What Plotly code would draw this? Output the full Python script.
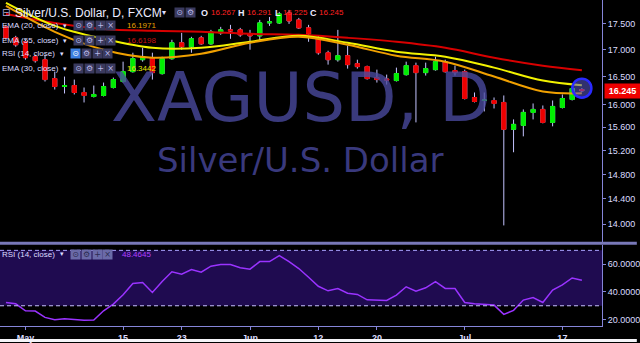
import math
import plotly.graph_objects as go

# ---------------- data ----------------
dates = [
    "2017-04-27", "2017-04-28",
    "2017-05-01", "2017-05-02", "2017-05-03", "2017-05-04", "2017-05-05",
    "2017-05-08", "2017-05-09", "2017-05-10", "2017-05-11", "2017-05-12",
    "2017-05-15", "2017-05-16", "2017-05-17", "2017-05-18", "2017-05-19",
    "2017-05-22", "2017-05-23", "2017-05-24", "2017-05-25", "2017-05-26",
    "2017-05-29", "2017-05-30", "2017-05-31",
    "2017-06-01", "2017-06-02",
    "2017-06-05", "2017-06-06", "2017-06-07", "2017-06-08", "2017-06-09",
    "2017-06-12", "2017-06-13", "2017-06-14", "2017-06-15", "2017-06-16",
    "2017-06-19", "2017-06-20", "2017-06-21", "2017-06-22", "2017-06-23",
    "2017-06-26", "2017-06-27", "2017-06-28", "2017-06-29", "2017-06-30",
    "2017-07-03", "2017-07-04", "2017-07-05", "2017-07-06", "2017-07-07",
    "2017-07-10", "2017-07-11", "2017-07-12", "2017-07-13", "2017-07-14",
    "2017-07-17", "2017-07-18", "2017-07-19",
]
opens = [17.442, 17.231, 17.155, 16.872, 16.816, 16.466, 16.321, 16.339, 16.213, 16.141,
         16.159, 16.303, 16.412, 16.594, 16.816, 16.854, 16.558, 16.835, 17.136, 17.060,
         17.231, 17.117, 17.326, 17.384, 17.384, 17.307, 17.269, 17.519, 17.519, 17.715,
         17.578, 17.423, 17.231, 16.947, 16.816, 16.891, 16.742, 16.687, 16.484, 16.457,
         16.430, 16.539, 16.705, 16.576, 16.631, 16.779, 16.613, 16.594, 16.123, 16.069,
         16.069, 16.034, 15.561, 15.630, 15.857, 15.910, 15.682, 15.945, 16.087, 16.267]
highs = [17.481, 17.269, 17.193, 16.910, 16.910, 16.594, 16.503, 16.448, 16.303, 16.339,
         16.393, 16.484, 16.779, 16.947, 17.041, 16.947, 16.872, 17.193, 17.326, 17.250,
         17.269, 17.384, 17.442, 17.481, 17.423, 17.384, 17.578, 17.636, 17.735, 17.774,
         17.617, 17.481, 17.269, 16.985, 17.384, 17.079, 16.816, 16.705, 16.631, 16.539,
         16.668, 16.779, 16.761, 16.761, 16.872, 16.816, 16.705, 16.631, 16.213, 16.213,
         16.123, 16.159, 15.734, 15.910, 16.016, 15.980, 16.069, 16.177, 16.321, 16.291]
lows = [17.193, 17.060, 16.816, 16.761, 16.412, 16.267, 16.195, 16.177, 16.034, 16.123,
        16.141, 16.285, 16.393, 16.576, 16.779, 16.448, 16.539, 16.816, 17.004, 16.947,
        17.098, 17.098, 17.288, 17.212, 17.250, 17.004, 17.155, 17.461, 17.500, 17.500,
        17.403, 17.155, 16.910, 16.724, 16.779, 16.650, 16.650, 16.448, 16.393, 16.357,
        16.412, 16.521, 15.682, 16.521, 16.613, 16.576, 16.521, 16.087, 16.034, 15.874,
        15.927, 13.982, 15.169, 15.440, 15.734, 15.665, 15.613, 15.927, 16.069, 16.225]
closes = [17.231, 17.098, 16.854, 16.798, 16.448, 16.321, 16.339, 16.213, 16.159, 16.177,
          16.321, 16.448, 16.594, 16.835, 16.872, 16.576, 16.835, 17.136, 17.060, 17.212,
          17.117, 17.346, 17.384, 17.365, 17.288, 17.269, 17.519, 17.539, 17.695, 17.558,
          17.423, 17.307, 16.947, 16.816, 16.891, 16.724, 16.687, 16.466, 16.448, 16.439,
          16.558, 16.705, 16.576, 16.650, 16.779, 16.594, 16.576, 16.105, 16.051, 16.078,
          16.016, 15.561, 15.647, 15.857, 15.910, 15.682, 15.963, 16.105, 16.285, 16.245]
rsi = [32.4, 31.4, 26.4, 26.2, 21.6, 19.9, 20.6, 19.9, 19.5, 19.7,
       26.4, 31.2, 37.9, 46.1, 46.8, 39.6, 47.5, 54.5, 52.8, 56.2,
       54.2, 58.6, 59.8, 59.8, 57.4, 56.4, 61.9, 61.9, 66.2, 61.9,
       56.9, 50.6, 44.1, 40.8, 42.5, 39.1, 38.2, 34.3, 33.9, 33.9,
       37.7, 43.7, 40.6, 43.0, 47.5, 42.5, 42.5, 32.4, 31.4, 31.2,
       30.5, 23.8, 26.7, 34.1, 36.0, 32.4, 41.3, 45.1, 50.1, 48.46]

ema_dates = ["2017-04-27", "2017-05-04", "2017-05-11", "2017-05-18", "2017-05-25",
             "2017-06-01", "2017-06-08", "2017-06-15", "2017-06-22", "2017-06-29",
             "2017-07-06", "2017-07-13", "2017-07-19"]
ema20 = [17.853, 17.346, 17.004, 16.854, 16.928, 17.136, 17.250, 17.098, 16.891, 16.779,
         16.503, 16.231, 16.197]
ema30 = [17.913, 17.461, 17.212, 17.041, 17.041, 17.155, 17.269, 17.136, 16.966, 16.872,
         16.668, 16.430, 16.344]
ema55 = [17.695, 17.519, 17.403, 17.365, 17.346, 17.307, 17.288, 17.231, 17.155, 17.041,
         16.854, 16.705, 16.620]

tick_dates = ["2017-05-01", "2017-05-15", "2017-05-23", "2017-06-01", "2017-06-12",
              "2017-06-20", "2017-07-03", "2017-07-17"]
tick_text = ["May", "15", "23", "Jun", "12", "20", "Jul", "17"]
price_ticks = [17.5, 17.0, 16.5, 16.0, 15.6, 15.2, 14.8, 14.4, 14.0]
rsi_ticks = [20, 40, 60]

level_high = 17.735
level_low = 15.561
level_mid = 16.13
last_price = 16.245
ohlc_last = ["16.267", "16.291", "16.225", "16.245"]
ema20_last, ema55_last, ema30_last, rsi_last = "16.1971", "16.6198", "16.3442", "48.4645"

# ---------------- styling ----------------
LAV = "#8585d8"
TXT = "#dcdcff"
W, H = 640, 343
ML, MR, MT, MB = 0, 35, 0, 16
PW, PH = W - ML - MR, H - MT - MB


def px(x):
    return x / PW


def py(y):
    return (PH - y) / PH


fig = go.Figure()

# wicks (full range) then bodies on top
fig.add_trace(go.Candlestick(
    x=dates, open=opens, high=highs, low=lows, close=closes,
    increasing=dict(line=dict(color="#c4c4ff", width=1), fillcolor="#c4c4ff"),
    decreasing=dict(line=dict(color="#c4c4ff", width=1), fillcolor="#c4c4ff"),
    whiskerwidth=0, hoverinfo="skip", showlegend=False, xaxis="x", yaxis="y"))
body_hi = [max(o, c) for o, c in zip(opens, closes)]
body_lo = [min(o, c) for o, c in zip(opens, closes)]
fig.add_trace(go.Candlestick(
    x=dates, open=opens, high=body_hi, low=body_lo, close=closes,
    increasing=dict(line=dict(color="#00ee00", width=1), fillcolor="#00ee00"),
    decreasing=dict(line=dict(color="#ee0000", width=1), fillcolor="#ee0000"),
    whiskerwidth=0, hoverinfo="skip", showlegend=False, xaxis="x", yaxis="y"))

for vals, col in [(ema55, "#d80000"), (ema30, "#f2f200"), (ema20, "#f0a000")]:
    fig.add_trace(go.Scatter(x=ema_dates, y=vals, mode="lines",
                             line=dict(color=col, width=2, shape="spline", smoothing=1.0),
                             hoverinfo="skip", showlegend=False, xaxis="x", yaxis="y"))

# highlight circle on last bar
fig.add_trace(go.Scatter(x=[dates[-1]], y=[highs[-1]], mode="markers",
                         marker=dict(size=19, color="rgba(90,90,200,0.55)",
                                     line=dict(color="#2a2aff", width=2.5)),
                         hoverinfo="skip", showlegend=False, xaxis="x", yaxis="y"))

fig.add_trace(go.Scatter(x=dates, y=rsi, mode="lines",
                         line=dict(color="#9a33ff", width=1.5),
                         hoverinfo="skip", showlegend=False, xaxis="x", yaxis="y2"))

lg = math.log10
shapes = [
    dict(type="rect", xref="paper", yref="y2", x0=0, x1=1, y0=30, y1=70,
         fillcolor="#1f0b50", line=dict(width=0), layer="below"),
    dict(type="line", xref="paper", yref="y2", x0=0, x1=1, y0=70, y1=70,
         line=dict(color="#a8a0ff", width=1, dash="4px,3px")),
    dict(type="line", xref="paper", yref="y2", x0=0, x1=1, y0=30, y1=30,
         line=dict(color="#c8c0ff", width=1, dash="4px,3px")),
    dict(type="line", xref="paper", yref="y", x0=0, x1=px(602), y0=lg(level_high), y1=lg(level_high),
         line=dict(color="#f0f000", width=2, dash="8px,7px")),
    dict(type="line", xref="paper", yref="y", x0=0, x1=px(566), y0=lg(level_low), y1=lg(level_low),
         line=dict(color="#0000f0", width=2.5, dash="7px,8px")),
    dict(type="line", xref="paper", yref="y", x0=0, x1=px(595), y0=lg(level_mid), y1=lg(level_mid),
         line=dict(color="#2a90e8", width=1)),
    dict(type="line", xref="paper", yref="paper", x0=0, x1=W / PW, y0=py(244), y1=py(244),
         line=dict(color="#7878b8", width=3)),
    dict(type="rect", xref="paper", yref="paper", x0=-0.01, x1=W / PW, y0=py(343), y1=py(340),
         fillcolor="#f4f4f8", line=dict(width=0)),
]

ann = []


def text(x, y, s, size=8, color=TXT, family="Liberation Sans", **kw):
    d = dict(xref="paper", yref="paper", x=px(x), y=py(y), text=s, showarrow=False,
             xanchor="left", yanchor="middle", borderpad=0,
             font=dict(size=size, color=color, family=family))
    d.update(kw)
    ann.append(d)


def icon(x, y, s, bg="#3a3a5e", fg="#b8b8e8"):
    ann.append(dict(xref="paper", yref="paper", x=px(x), y=py(y), text=s, showarrow=False,
                    xanchor="left", yanchor="middle", width=9, height=9, bgcolor=bg,
                    borderpad=0, font=dict(size=8, color=fg, family="DejaVu Sans")))


# watermark
ann.append(dict(xref="paper", yref="paper", x=px(302), y=py(98), text="XAGUSD, D", showarrow=False,
                xanchor="center", yanchor="middle",
                font=dict(size=67, color="rgba(74,74,160,0.78)", family="DejaVu Sans")))
ann.append(dict(xref="paper", yref="paper", x=px(302), y=py(160), text="Silver/U.S. Dollar",
                showarrow=False, xanchor="center", yanchor="middle",
                font=dict(size=34, color="rgba(74,74,160,0.78)", family="DejaVu Sans")))

# header row
text(1, 13, "⊟", size=10, color="#b0b0e0", family="DejaVu Sans")
text(14, 13, "Silver/U.S. Dollar, D, FXCM", size=12, color="#ececff")
text(162, 13, "▾", size=8, color=TXT, family="DejaVu Sans")
icon(175, 13, "⊙")
icon(186, 13, "⚙")
for lx, lab, vx, val in [(201, "O", 211, ohlc_last[0]), (238, "H", 247, ohlc_last[1]),
                         (275, "L", 283, ohlc_last[2]), (311, "C", 320, ohlc_last[3])]:
    text(lx, 13, "<b>" + lab + "</b>", size=9, color="#ececff")
    text(vx, 13, val, size=8, color="#ff2020")

# indicator rows
rows = [
    (26, "EMA (20, close)", 73, ema20_last, "#e8a000", False),
    (41, "EMA (55, close)", 73, ema55_last, "#c81010", False),
    (54, "RSI (14, close)", 70, None, None, True),
    (69, "EMA (30, close)", 73, ema30_last, "#e8e800", False),
]
for y, lab, ix, val, vcol, hl in rows:
    text(1, y, lab, size=8, color=TXT)
    text(ix - 11, y, "▾", size=7, color=TXT, family="DejaVu Sans")
    icon(ix, y, "⊙", bg="#3d7fe0" if hl else "#3a3a5e", fg="#ffffff" if hl else "#b8b8e8")
    icon(ix + 11, y, "⚙")
    icon(ix + 22, y, "+")
    icon(ix + 33, y, "×")
    if val:
        text(127, y, val, size=8, color=vcol)

# RSI pane label
text(1, 255, "RSI (14, close)", size=8, color=TXT)
text(59, 255, "▾", size=7, color=TXT, family="DejaVu Sans")
for k, s in enumerate(["⊙", "⚙", "+", "×"]):
    icon(70 + 11 * k, 255, s, bg="#6a6aa8", fg="#2a2a50")
text(122, 255, rsi_last, size=8, color="#b040ff")

# last price tag on axis
ann.append(dict(xref="paper", yref="y", x=px(607), y=lg(last_price), text="<b>16.245</b>",
                showarrow=False, xanchor="left", yanchor="middle", bgcolor="#ee0000",
                borderpad=2, width=31, font=dict(size=9, color="#ffffff", family="Liberation Sans")))

axis_font = dict(size=9, color=TXT, family="Liberation Sans")
fig.update_layout(
    width=W, height=H, autosize=False,
    margin=dict(l=ML, r=MR, t=MT, b=MB, pad=0),
    paper_bgcolor="#000000", plot_bgcolor="#000000",
    showlegend=False, hovermode=False,
    shapes=shapes, annotations=ann,
    boxgap=0.4,
    xaxis=dict(type="category", range=[-0.61, 61.06], anchor="y2", domain=[0, 1],
               tickmode="array", tickvals=tick_dates, ticktext=["<b>" + t + "</b>" for t in tick_text],
               tickfont=axis_font, showgrid=False, zeroline=False, showline=True,
               linecolor=LAV, linewidth=1, ticks="outside", ticklen=3, tickcolor=LAV,
               rangeslider=dict(visible=False), fixedrange=True),
    yaxis=dict(type="log", domain=[py(244), 1], anchor="x", side="right",
               range=[lg(13.707), lg(17.972)], tickmode="array", tickvals=price_ticks,
               ticktext=["%.3f" % v for v in price_ticks], tickfont=axis_font,
               showgrid=False, zeroline=False, showline=True, linecolor=LAV, linewidth=1,
               ticks="outside", ticklen=3, tickcolor=LAV, fixedrange=True),
    yaxis2=dict(domain=[0, py(246)], anchor="x", side="right", range=[15.4, 73.7],
                tickmode="array", tickvals=rsi_ticks, ticktext=["%.4f" % v for v in rsi_ticks],
                tickfont=axis_font, showgrid=False, zeroline=False, showline=True,
                linecolor=LAV, linewidth=1, ticks="outside", ticklen=3, tickcolor=LAV,
                fixedrange=True),
)

fig.write_html("out.html", config={"displayModeBar": False})
